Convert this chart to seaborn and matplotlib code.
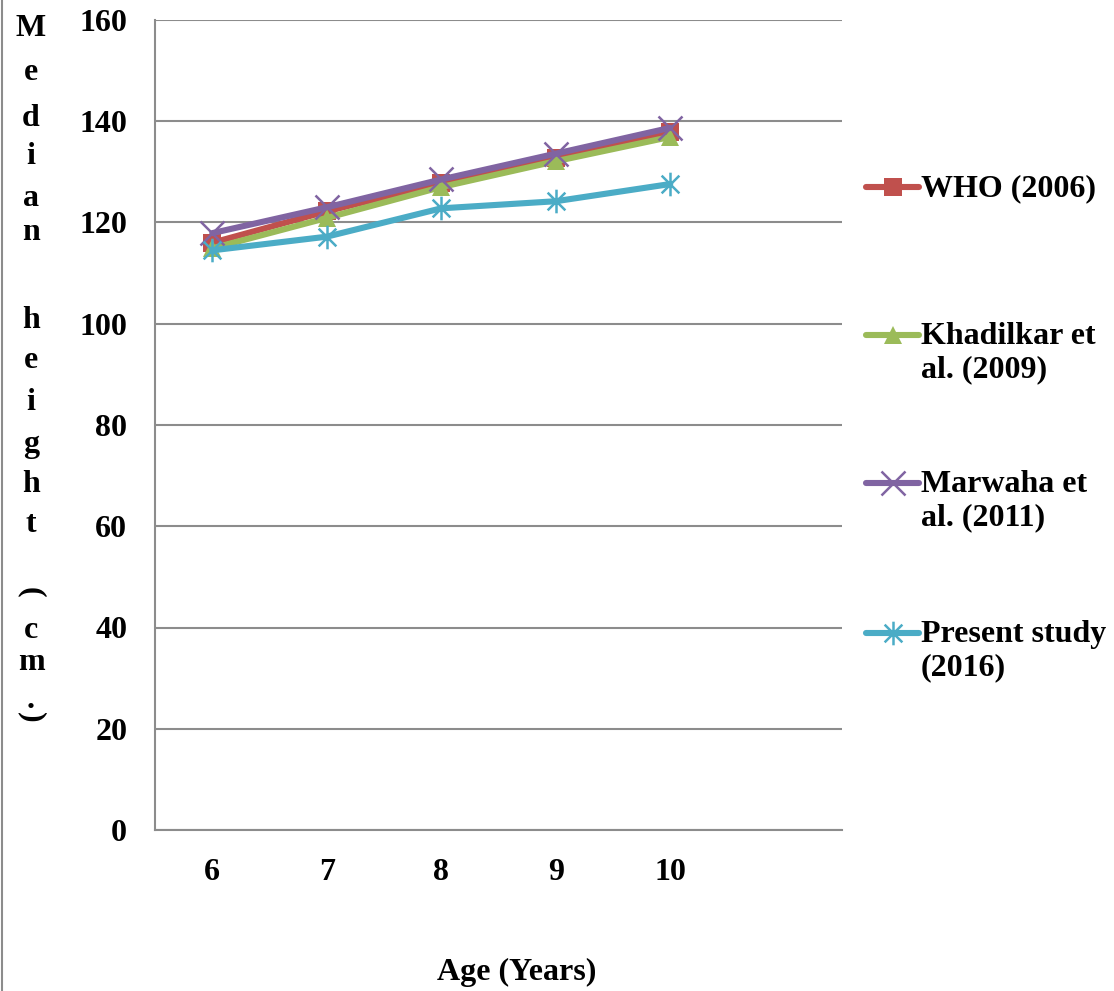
import pandas as pd
import matplotlib
matplotlib.use("Agg")
from matplotlib import pyplot as plt
from matplotlib.lines import Line2D
from matplotlib.path import Path
import seaborn as sns

ages = [6, 7, 8, 9, 10]
who_2006 = [116.0, 122.2, 127.8, 132.7, 137.8]
khadilkar_2009 = [114.9, 120.9, 127.0, 132.1, 136.9]
marwaha_2011 = [117.9, 123.0, 128.5, 133.6, 138.7]
present_2016 = [114.5, 117.2, 122.8, 124.2, 127.6]

series_names = ["WHO (2006)", "Khadilkar et\nal. (2009)", "Marwaha et\nal. (2011)", "Present study\n(2016)"]
series_values = [who_2006, khadilkar_2009, marwaha_2011, present_2016]
colors = ["#C0504D", "#9BBB59", "#8064A2", "#4BACC6"]
y_ticks = [0, 20, 40, 60, 80, 100, 120, 140, 160]
ylabel_chars = ["M", "e", "d", "i", "a", "n", "h", "e", "i", "g", "h", "t", "(", "c", "m", ".", ")"]
ylabel_ypix = [28, 73, 118, 157, 198, 233, 320, 360, 402, 445, 485, 525, 592, 630, 663, 700, 717]

# excel style asterisk: vertical bar plus an x
star = Path([(0, -1), (0, 1), (-0.75, -0.75), (0.75, 0.75), (-0.75, 0.75), (0.75, -0.75)],
            [Path.MOVETO, Path.LINETO, Path.MOVETO, Path.LINETO, Path.MOVETO, Path.LINETO])
markers = ["s", "^", "x", star]
filled_flags = [True, True, False, False]

sns.set_style("white")
plt.rcParams["font.family"] = ["Liberation Serif", "DejaVu Serif"]
plt.rcParams["font.weight"] = "bold"
plt.rcParams["text.color"] = "black"
plt.rcParams["xtick.labelcolor"] = "black"
plt.rcParams["ytick.labelcolor"] = "black"

W, H = 1114, 991
fs = 23
fig = plt.figure(figsize=(W / 100, H / 100), dpi=100)
ax = fig.add_axes([155 / W, 1 - 830 / H, (842 - 155) / W, (830 - 20) / H])

frames = []
for name, vals in zip(series_names, series_values):
    frames.append(pd.DataFrame({"Age": ages, "Height": vals, "Series": name}))
plot_data = pd.concat(frames)

grid_col = "#8c8c8c"


def marker_kw(filled, col):
    return dict(markersize=13 if filled else 17,
                markeredgewidth=0 if filled else 1.8,
                markeredgecolor=col, markerfacecolor=col)


for name, col, mk, filled in zip(series_names, colors, markers, filled_flags):
    sub = plot_data[plot_data["Series"] == name]
    sns.lineplot(data=sub, x="Age", y="Height", ax=ax, color=col, linewidth=4.4,
                 marker=mk, legend=False, **marker_kw(filled, col))

ax.set_ylim(0, 160)
ax.set_xlim(5.5, 11.5)
ax.set_yticks(y_ticks)
ax.set_yticklabels([str(t) for t in y_ticks], fontsize=fs, fontweight="bold")
ax.yaxis.grid(True, color=grid_col, linewidth=1.5)
ax.set_axisbelow(True)
ax.set_xticks([a - 0.5 for a in ages] + [10.5, 11.5])
ax.set_xticklabels([])
ax.set_xticks(ages, minor=True)
ax.set_xticklabels([str(a) for a in ages], minor=True, fontsize=fs, fontweight="bold")
ax.tick_params(axis="x", which="major", length=10, width=1.5, color=grid_col, direction="out")
ax.tick_params(axis="x", which="minor", length=0, pad=20)
ax.tick_params(axis="y", length=11, width=1.5, color=grid_col, direction="out", pad=9)
ax.set_xlabel("")
ax.set_ylabel("")
for side in ["top", "right"]:
    ax.spines[side].set_visible(False)
for side in ["left", "bottom"]:
    ax.spines[side].set_color(grid_col)
    ax.spines[side].set_linewidth(1.5)

fig.text(517 / W, 1 - 972 / H, "Age (Years)", ha="center", va="center", fontsize=fs, fontweight="bold")

for ch, yp in zip(ylabel_chars, ylabel_ypix):
    rot = -90 if ch in "()" else 0
    fig.text(31 / W, 1 - yp / H, ch, ha="center", va="center", fontsize=fs,
             fontweight="bold", rotation=rot)

# legend drawn by hand so the key sits on the first text line
legend_y = [187, 335, 483, 633]
for name, col, mk, filled, yp in zip(series_names, colors, markers, filled_flags, legend_y):
    yf = 1 - yp / H
    fig.add_artist(Line2D([866 / W, 919 / W], [yf, yf], color=col, linewidth=4.4,
                          solid_capstyle="round"))
    fig.add_artist(Line2D([893 / W], [yf], marker=mk, color=col, linestyle="none",
                          **marker_kw(filled, col)))
    fig.text(921 / W, 1 - (yp - 13) / H, name, ha="left", va="top", fontsize=fs,
             fontweight="bold", linespacing=1.2)

fig.add_artist(Line2D([2 / W, 2 / W], [0, 1], color=grid_col, linewidth=1.5))

fig.savefig("out.png", dpi=100)
